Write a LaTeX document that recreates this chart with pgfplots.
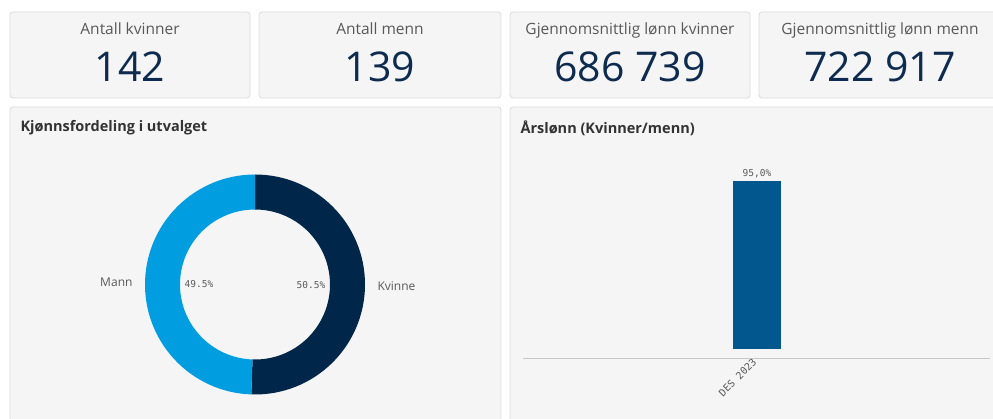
\documentclass[border=0pt]{standalone}
\usepackage{pgfplots}
\pgfplotsset{compat=1.18}
\usepackage{pgfplotstable}
\usepackage{fontspec}
\setmainfont{Open Sans}
\newfontfamily\monofont{DejaVu Sans Mono}
\definecolor{panel}{HTML}{F5F5F5}
\definecolor{border}{HTML}{DCDCDC}
\definecolor{lbl}{HTML}{595959}
\definecolor{ttl}{HTML}{333333}
\definecolor{kpi}{HTML}{0D2B4E}
\definecolor{mann}{HTML}{009EE0}
\definecolor{kvinne}{HTML}{00274A}
\definecolor{barc}{HTML}{01578E}
\definecolor{axisline}{HTML}{C8C8C8}

\pgfplotstableread{
label value
Kvinne 142
Mann 139
}\gender

\begin{document}
\begin{tikzpicture}[x=1pt,y=1pt]
\useasboundingbox (0,0) rectangle (993,418);
\clip (0,0) rectangle (993,418);
\fill[white] (0,0) rectangle (993,418);
% KPI boxes
\tikzset{box/.style={fill=panel, draw=border, line width=0.8pt, rounded corners=3pt},
  kt/.style={anchor=base, text=lbl, font=\fontsize{15.5}{17}\selectfont},
  kn/.style={anchor=base, text=kpi, font=\fontsize{41}{45}\selectfont}}
\draw[box] (10,320) rectangle (250,406);
\draw[box] (259,320) rectangle (501,406);
\draw[box] (510,320) rectangle (750,406);
\draw[box] (759,320) rectangle (1001,406);
\node[kt] at (130,383) {Antall kvinner};
\node[kt] at (380,383) {Antall menn};
\node[kt] at (630,383) {Gjennomsnittlig lønn kvinner};
\node[kt] at (880,383) {Gjennomsnittlig lønn menn};
\node[kn] at (130,336) {142};
\node[kn] at (380,336) {139};
\node[kn] at (630,336) {686 739};
\node[kn] at (880,336) {722 917};
% bottom panels
\draw[box] (10,-10) rectangle (501,311);
\draw[box] (510,-10) rectangle (1001,311);
\node[anchor=west, text=ttl, font=\bfseries\fontsize{14.5}{16}\selectfont] at (17,290) {Kjønnsfordeling i utvalget};
\node[anchor=west, text=ttl, font=\bfseries\fontsize{14.5}{16}\selectfont] at (517,290) {Årslønn (Kvinner/menn)};
% donut data
\pgfplotstablegetelem{0}{value}\of\gender\edef\vk{\pgfplotsretval}
\pgfplotstablegetelem{1}{value}\of\gender\edef\vm{\pgfplotsretval}
\pgfmathsetmacro\fk{\vk/(\vk+\vm)}
\pgfmathsetmacro\ak{90-360*\fk}
\pgfmathsetmacro\pk{100*\fk}
\pgfmathsetmacro\pmn{100-100*\fk}
\pgfmathsetmacro\midk{(90+\ak)/2}
\pgfmathsetmacro\midm{(\ak-270)/2}
\begin{axis}[at={(255pt,133.5pt)}, anchor=center, width=220pt, height=220pt, scale only axis,
  hide axis, xmin=-110, xmax=110, ymin=-110, ymax=110, clip=false]
\fill[kvinne] ([shift={(90:110pt)}]axis cs:0,0) arc[start angle=90,end angle=\ak,radius=110pt]
  -- ([shift={(\ak:75pt)}]axis cs:0,0) arc[start angle=\ak,end angle=90,radius=75pt] -- cycle;
\fill[mann] ([shift={(\ak:110pt)}]axis cs:0,0) arc[start angle=\ak,end angle=-270,radius=110pt]
  -- ([shift={(-270:75pt)}]axis cs:0,0) arc[start angle=-270,end angle=\ak,radius=75pt] -- cycle;
\node[anchor=west, text=lbl, font=\fontsize{12}{14}\selectfont] at ([shift={(\midk:119pt)}]axis cs:0,0) {Kvinne};
\node[anchor=east, text=lbl, font=\fontsize{12}{14}\selectfont] at ([shift={(\midm:119pt)}]axis cs:0,0) {Mann};
\node[text=lbl, font=\monofont\fontsize{9.5}{11}\selectfont] at ([shift={(\midk:56pt)}]axis cs:0,0) {\pgfmathprintnumber[fixed,fixed zerofill,precision=1,assume math mode=true]{\pk}\%};
\node[text=lbl, font=\monofont\fontsize{9.5}{11}\selectfont] at ([shift={(\midm:56pt)}]axis cs:0,0) {\pgfmathprintnumber[fixed,fixed zerofill,precision=1,assume math mode=true]{\pmn}\%};
\end{axis}
% bar chart
\begin{axis}[at={(523pt,60pt)}, anchor=south west, scale only axis, width=467pt, height=218pt,
  xmin=-234, xmax=233, ymin=-0.0509, ymax=1.182,
  ybar, bar width=48pt,
  axis line style={draw=none},
  xtick={0}, xticklabels={DES 2023}, major tick length=0pt,
  xticklabel style={rotate=45, anchor=east, text=lbl, font=\monofont\fontsize{10}{12}\selectfont},
  ytick=\empty,
  point meta={y*100},
  nodes near coords={\pgfmathprintnumber[fixed,fixed zerofill,precision=1,use comma,assume math mode=true]{\pgfplotspointmeta}\%},
  every node near coord/.append style={text=lbl, font=\monofont\fontsize{9.5}{11}\selectfont},
  clip=false]
\addplot[fill=barc, draw=none] coordinates {(0,0.95)};
\draw[axisline, line width=0.8pt] (axis cs:-234,-0.0509) -- (axis cs:233,-0.0509);
\end{axis}
\end{tikzpicture}
\end{document}
